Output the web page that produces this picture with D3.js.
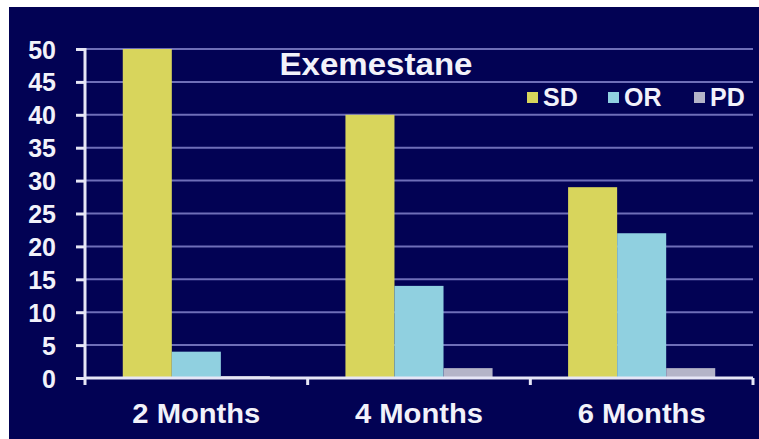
<!DOCTYPE html>
<html>
<head>
<meta charset="utf-8">
<script src="https://cdn.jsdelivr.net/npm/d3@7"></script>
<style>
  body { margin: 0; background: #ffffff; }
  svg text { font-family: "Liberation Sans", Arial, sans-serif; font-weight: bold; fill: #f2f2fa; }
</style>
</head>
<body>
<div id="chart"></div>
<script>
var categories = ["2 Months", "4 Months", "6 Months"];
var seriesNames = ["SD", "OR", "PD"];
var sdValues = [50, 40, 29];
var orValues = [4, 14, 22];
var pdValues = [0.3, 1.5, 1.5];
var yTicks = [0, 5, 10, 15, 20, 25, 30, 35, 40, 45, 50];
var titleText = "Exemestane";

var colors = { SD: "#d8d55c", OR: "#90d0e0", PD: "#b4b4c8" };

var width = 759, height = 439;
var margin = {top: 49, right: 6, bottom: 61, left: 85};

var svg = d3.select("#chart").append("svg")
  .attr("width", width)
  .attr("height", height);

// navy panel
svg.append("rect")
  .attr("x", 9).attr("y", 7)
  .attr("width", width - 9).attr("height", height - 7)
  .attr("fill", "#020254");

var data = categories.map(function(c, i) {
  return { cat: c, SD: sdValues[i], OR: orValues[i], PD: pdValues[i] };
});

var x0 = d3.scaleBand()
  .domain(categories)
  .range([margin.left, width - margin.right])
  .padding(0);

var x1 = d3.scaleBand()
  .domain(seriesNames)
  .range([0, x0.bandwidth()])
  .paddingInner(0)
  .paddingOuter(0.77);

var y = d3.scaleLinear()
  .domain([0, 50])
  .range([height - margin.bottom, margin.top]);

// gridlines
svg.append("g").selectAll("line")
  .data(yTicks.filter(function(d){ return d > 0; }))
  .enter().append("line")
  .attr("x1", margin.left).attr("x2", width - margin.right)
  .attr("y1", function(d){ return y(d); })
  .attr("y2", function(d){ return y(d); })
  .attr("stroke", "#6e6eb8")
  .attr("stroke-width", 2);

// bars
var groups = svg.append("g").selectAll("g")
  .data(data)
  .enter().append("g")
  .attr("transform", function(d){ return "translate(" + x0(d.cat) + ",0)"; });

groups.selectAll("rect")
  .data(function(d){ return seriesNames.map(function(k){ return {key: k, value: d[k]}; }); })
  .enter().append("rect")
  .attr("x", function(d){ return x1(d.key); })
  .attr("width", x1.bandwidth())
  .attr("y", function(d){ return y(d.value); })
  .attr("height", function(d){ return y(0) - y(d.value); })
  .attr("fill", function(d){ return colors[d.key]; });

// y axis
var yAxis = svg.append("g")
  .attr("transform", "translate(" + margin.left + ",0)")
  .call(d3.axisLeft(y).tickValues(yTicks).tickSize(9).tickPadding(20));
yAxis.select(".domain").remove();
yAxis.selectAll(".tick line").attr("stroke", "#e6e6f6").attr("stroke-width", 3);
yAxis.selectAll("text")
  .style("font-size", "25px")
  .attr("fill", "#f2f2fa")
  .attr("dy", "0.36em");
yAxis.append("line")
  .attr("x1", 0).attr("x2", 0)
  .attr("y1", y(50) - 1).attr("y2", y(0) + 7)
  .attr("stroke", "#e6e6f6").attr("stroke-width", 3);

// x axis
var xAxis = svg.append("g")
  .attr("transform", "translate(0," + y(0) + ")");
xAxis.append("line")
  .attr("x1", margin.left).attr("x2", width - margin.right)
  .attr("stroke", "#e6e6f6").attr("stroke-width", 3);
xAxis.selectAll(".sep")
  .data(categories)
  .enter().append("line")
  .attr("class", "sep")
  .attr("x1", function(d){ return x0(d) + x0.bandwidth(); })
  .attr("x2", function(d){ return x0(d) + x0.bandwidth(); })
  .attr("y1", 0).attr("y2", 7)
  .attr("stroke", "#e6e6f6").attr("stroke-width", 3);
xAxis.selectAll(".lbl")
  .data(categories)
  .enter().append("text")
  .attr("class", "lbl")
  .attr("x", function(d){ return x0(d) + x0.bandwidth() / 2; })
  .attr("y", 45)
  .attr("text-anchor", "middle")
  .style("font-size", "28px")
  .attr("textLength", 128)
  .attr("lengthAdjust", "spacingAndGlyphs")
  .text(function(d){ return d; });

// title
svg.append("text")
  .attr("x", 376)
  .attr("y", 75)
  .attr("text-anchor", "middle")
  .style("font-size", "31px")
  .attr("textLength", 193)
  .attr("lengthAdjust", "spacingAndGlyphs")
  .text(titleText);

// legend
var legendX = [527, 608, 694];
var legend = svg.append("g").selectAll("g")
  .data(seriesNames)
  .enter().append("g")
  .attr("transform", function(d, i){ return "translate(" + legendX[i] + ",0)"; });
legend.append("rect")
  .attr("x", 0).attr("y", 92)
  .attr("width", 11).attr("height", 11)
  .attr("fill", function(d){ return colors[d]; });
legend.append("text")
  .attr("x", 16).attr("y", 106)
  .style("font-size", "25px")
  .text(function(d){ return d; });
</script>
</body>
</html>
